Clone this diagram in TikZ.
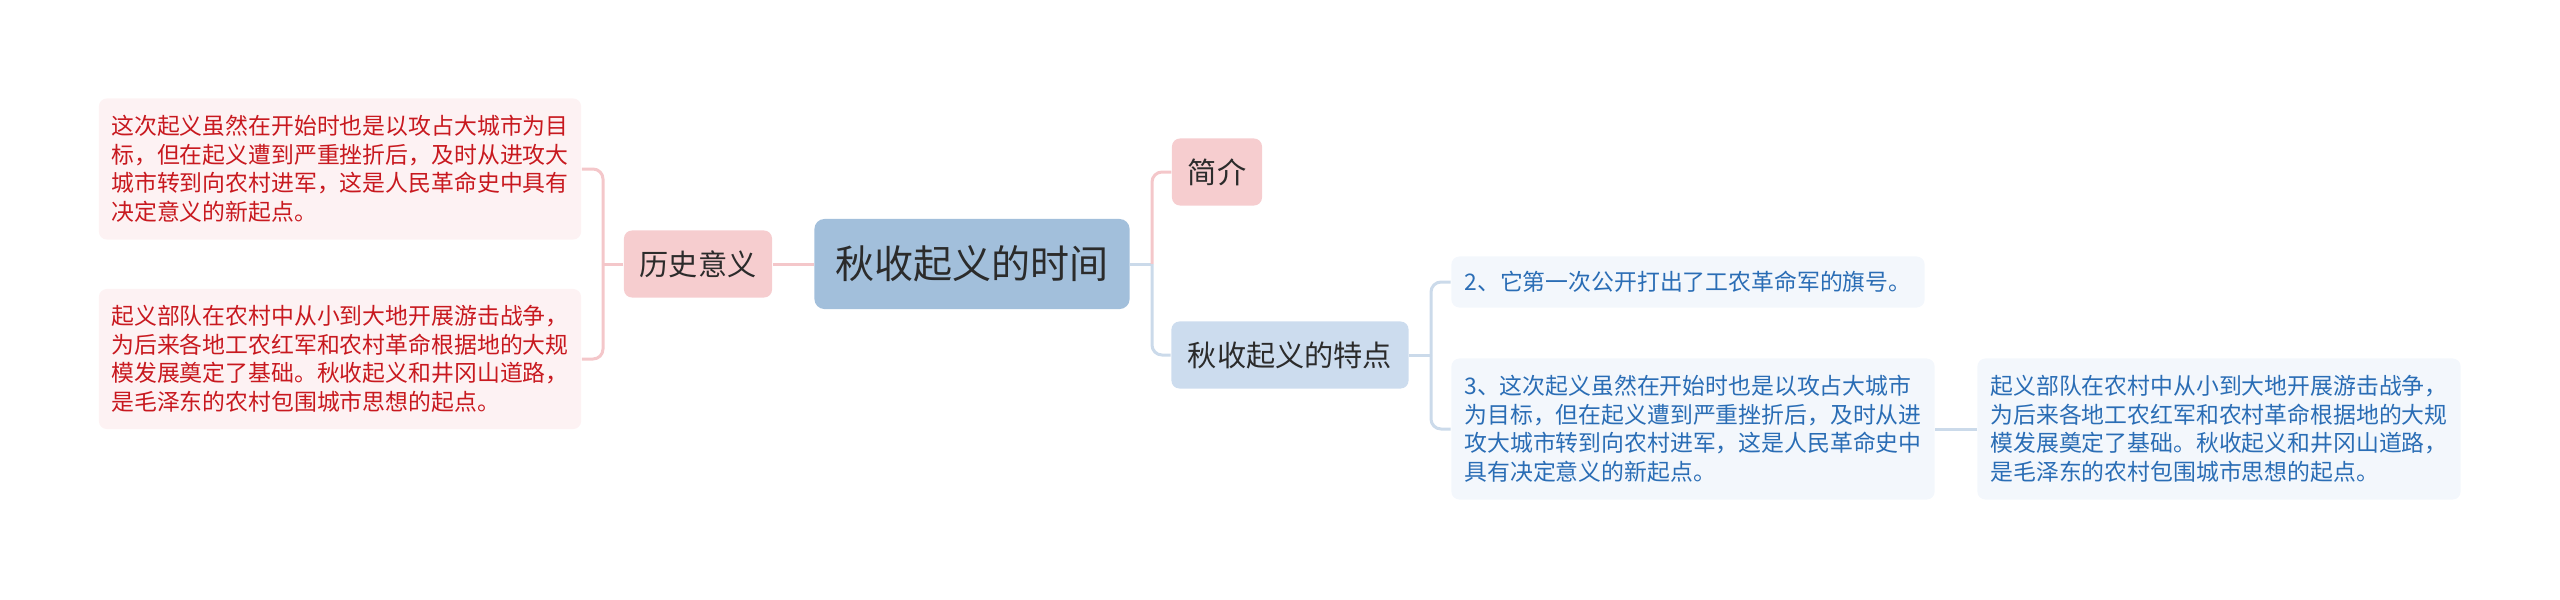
\documentclass[tikz,border=0pt]{standalone}
\usepackage{fontspec}
\newfontfamily\cjk{Noto Sans CJK SC}
\definecolor{rootfill}{HTML}{A2BFDB}
\definecolor{pinkfill}{HTML}{F6CDCF}
\definecolor{pinkpale}{HTML}{FDF2F3}
\definecolor{pinkline}{HTML}{F4C7CA}
\definecolor{bluefill}{HTML}{CCDCEE}
\definecolor{bluepale}{HTML}{F3F7FC}
\definecolor{blueline}{HTML}{CBDAEA}
\definecolor{redtext}{HTML}{C8191F}
\definecolor{bluetext}{HTML}{2A6DB5}
\definecolor{darktext}{HTML}{2B2B2B}

\begin{document}
\begin{tikzpicture}[x=0.01cm, y=-0.01cm,
  rootbox/.style={rectangle, rounded corners=0.1cm, fill=rootfill, text=darktext,
    font=\cjk\fontsize{11.1}{13}\selectfont, minimum width=3.15cm, minimum height=0.9cm},
  subbox/.style={rectangle, rounded corners=0.08cm, text=darktext,
    font=\cjk\fontsize{8.3}{10}\selectfont, minimum height=0.67cm},
  leafbox/.style={rectangle, rounded corners=0.08cm, align=left, inner sep=0pt,
    font=\cjk\fontsize{6.5}{8.1}\selectfont, minimum width=4.82cm},
  pinkleaf/.style={leafbox, fill=pinkpale, text=redtext},
  blueleaf/.style={leafbox, fill=bluepale, text=bluetext},
  link/.style={line width=0.03cm, rounded corners=0.1cm}]
\useasboundingbox (0,0) rectangle (2560,599);

% Centre and main branches
\node (shijian) [rootbox] at (972,264) {秋收起义的时间};
\node (lishi) [subbox, fill=pinkfill, minimum width=1.48cm] at (698,264) {历史意义};
\node (jianjie) [subbox, fill=pinkfill, minimum width=0.9cm] at (1217,172) {简介};
\node (tedian) [subbox, fill=bluefill, minimum width=2.37cm] at (1290,355) {秋收起义的特点};

% Left leaves
\node (lishiA) [pinkleaf, minimum height=1.41cm] at (340,169)
  {这次起义虽然在开始时也是以攻占大城市为目\\标，但在起义遭到严重挫折后，及时从进攻大\\城市转到向农村进军，这是人民革命史中具有\\决定意义的新起点。};
\node (lishiB) [pinkleaf, minimum height=1.4cm] at (340,359)
  {起义部队在农村中从小到大地开展游击战争，\\为后来各地工农红军和农村革命根据地的大规\\模发展奠定了基础。秋收起义和井冈山道路，\\是毛泽东的农村包围城市思想的起点。};

% Right leaves
\node (tedianA) [blueleaf, minimum width=4.73cm, minimum height=0.51cm] at (1688,282)
  {2、它第一次公开打出了工农革命军的旗号。};
\node (tedianB) [blueleaf, minimum width=4.83cm, minimum height=1.41cm] at (1693,429)
  {3、这次起义虽然在开始时也是以攻占大城市\\为目标，但在起义遭到严重挫折后，及时从进\\攻大城市转到向农村进军，这是人民革命史中\\具有决定意义的新起点。};
\node (tedianC) [blueleaf, minimum width=4.83cm, minimum height=1.41cm] at (2219,429)
  {起义部队在农村中从小到大地开展游击战争，\\为后来各地工农红军和农村革命根据地的大规\\模发展奠定了基础。秋收起义和井冈山道路，\\是毛泽东的农村包围城市思想的起点。};

% Connectors
\coordinate (ltrunk) at (603,264);
\coordinate (rtrunk) at (1152,264);
\coordinate (ttrunk) at (1431,355);
\draw [link, pinkline] (shijian) -- (lishi);
\draw [link, pinkline] (lishi) -- (ltrunk);
\draw [link, pinkline] (ltrunk) |- (lishiA.east);
\draw [link, pinkline] (ltrunk) |- (lishiB.east);
\draw [link, blueline] (shijian) -- (rtrunk);
\draw [link, pinkline] (rtrunk) |- (jianjie.west);
\draw [link, blueline] (rtrunk) |- (tedian.west);
\draw [link, blueline] (tedian) -- (ttrunk);
\draw [link, blueline] (ttrunk) |- (tedianA.west);
\draw [link, blueline] (ttrunk) |- (tedianB.west);
\draw [link, blueline] (tedianB) -- (tedianC);
\end{tikzpicture}
\end{document}
